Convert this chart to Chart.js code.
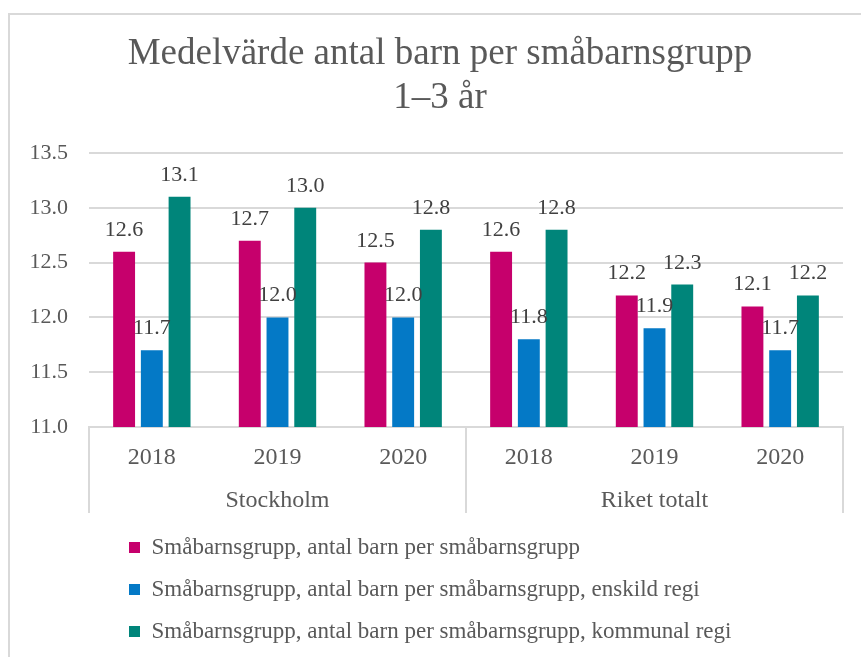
<!DOCTYPE html>
<html><head><meta charset="utf-8">
<script src="https://cdn.jsdelivr.net/npm/chart.js@4"></script>
<style>
html,body{margin:0;padding:0;background:#fff;overflow:hidden;width:861px;height:657px;}
#frame{position:absolute;left:8px;top:13px;width:900px;height:700px;border:2px solid #d9d9d9;box-sizing:border-box;}
#wrap{position:absolute;left:0;top:0;width:880px;height:657px;}
</style></head><body>
<div id="frame"></div>
<div id="wrap"><canvas id="c" width="880" height="657"></canvas></div>
<script>
const titleLines = ['Medelvärde antal barn per småbarnsgrupp', '1–3 år'];
const years = ['2018', '2019', '2020', '2018', '2019', '2020'];
const groups = ['Stockholm', 'Riket totalt'];
const groupSizes = [3, 3];
const seriesNames = [
  'Småbarnsgrupp, antal barn per småbarnsgrupp',
  'Småbarnsgrupp, antal barn per småbarnsgrupp, enskild regi',
  'Småbarnsgrupp, antal barn per småbarnsgrupp, kommunal regi'
];
const totalValues = [12.6, 12.7, 12.5, 12.6, 12.2, 12.1];
const privateValues = [11.7, 12.0, 12.0, 11.8, 11.9, 11.7];
const municipalValues = [13.1, 13.0, 12.8, 12.8, 12.3, 12.2];
const yTickValues = [11.0, 11.5, 12.0, 12.5, 13.0, 13.5];

const colors = ['#C6006C', '#0479C6', '#00857A'];
const serif = "'Liberation Serif', 'Times New Roman', serif";
const textGrey = '#595959';
const gridGrey = '#d9d9d9';

const dataLabels = {
  id: 'dataLabels',
  afterDatasetsDraw(chart) {
    const ctx = chart.ctx;
    ctx.save();
    ctx.font = '22px ' + serif;
    ctx.fillStyle = '#404040';
    ctx.textAlign = 'center';
    ctx.textBaseline = 'alphabetic';
    chart.data.datasets.forEach((ds, di) => {
      const meta = chart.getDatasetMeta(di);
      meta.data.forEach((el, i) => {
        ctx.fillText(ds.data[i].toFixed(1), el.x, el.y - 16);
      });
    });
    ctx.restore();
  }
};

const groupAxis = {
  id: 'groupAxis',
  afterDraw(chart) {
    const ctx = chart.ctx;
    const xs = chart.scales.x;
    const bottom = chart.chartArea.bottom;
    ctx.save();
    ctx.strokeStyle = gridGrey;
    ctx.lineWidth = 2;
    const bounds = [xs.left];
    let idx = 0;
    groupSizes.forEach((n, g) => {
      const first = idx, last = idx + n - 1;
      idx += n;
      const right = (idx < years.length)
        ? (xs.getPixelForTick(last) + xs.getPixelForTick(idx)) / 2
        : xs.right;
      bounds.push(right);
      const cx = (xs.getPixelForTick(first) + xs.getPixelForTick(last)) / 2;
      ctx.font = '24px ' + serif;
      ctx.fillStyle = textGrey;
      ctx.textAlign = 'center';
      ctx.textBaseline = 'alphabetic';
      ctx.fillText(groups[g], cx, bottom + 80);
    });
    bounds.forEach(x => {
      ctx.beginPath();
      ctx.moveTo(x, bottom);
      ctx.lineTo(x, bottom + 86);
      ctx.stroke();
    });
    ctx.restore();
  }
};

const boxShift = {
  id: 'boxShift',
  afterLayout(chart) {
    if (chart.legend) {
      chart.legend.left += 21;
      chart.legend.right += 21;
    }
    if (chart.titleBlock) {
      chart.titleBlock.right += 37;
      chart.titleBlock.width += 37;
    }
  }
};

new Chart(document.getElementById('c'), {
  type: 'bar',
  data: {
    labels: years,
    datasets: [
      { label: seriesNames[0], data: totalValues, backgroundColor: colors[0], borderWidth: 0 },
      { label: seriesNames[1], data: privateValues, backgroundColor: colors[1], borderWidth: 0 },
      { label: seriesNames[2], data: municipalValues, backgroundColor: colors[2], borderWidth: 0 }
    ]
  },
  options: {
    responsive: false,
    animation: false,
    categoryPercentage: 0.662,
    barPercentage: 0.79,
    layout: { padding: { left: 0, right: 37, top: 0, bottom: 4 } },
    plugins: {
      tooltip: { enabled: false },
      title: {
        display: true,
        text: titleLines,
        color: textGrey,
        font: { family: serif, size: 37, weight: 'normal', lineHeight: 44 / 37 },
        padding: { top: 32, bottom: 33 }
      },
      legend: {
        display: true,
        position: 'bottom',
        align: 'start',
        fullSize: false,
        labels: {
          color: textGrey,
          font: { family: serif, size: 23 },
          boxWidth: 11,
          boxHeight: 11,
          padding: 19
        }
      }
    },
    scales: {
      x: {
        grid: { display: false, drawTicks: false },
        border: { display: true, color: gridGrey, width: 2 },
        ticks: { color: textGrey, font: { family: serif, size: 24 }, padding: 16, maxRotation: 0, autoSkip: false },
        afterFit(s) { s.height = 90; }
      },
      y: {
        min: 11,
        max: 13.5,
        grid: { color: gridGrey, lineWidth: 2, drawTicks: false },
        border: { display: false },
        afterBuildTicks(s) { s.ticks = yTickValues.map(v => ({ value: v })); },
        ticks: {
          color: textGrey,
          font: { family: serif, size: 22 },
          padding: 21,
          callback: v => Number(v).toFixed(1)
        },
        afterFit(s) { s.width = 89; }
      }
    }
  },
  plugins: [dataLabels, groupAxis, boxShift]
});
</script>
</body></html>
